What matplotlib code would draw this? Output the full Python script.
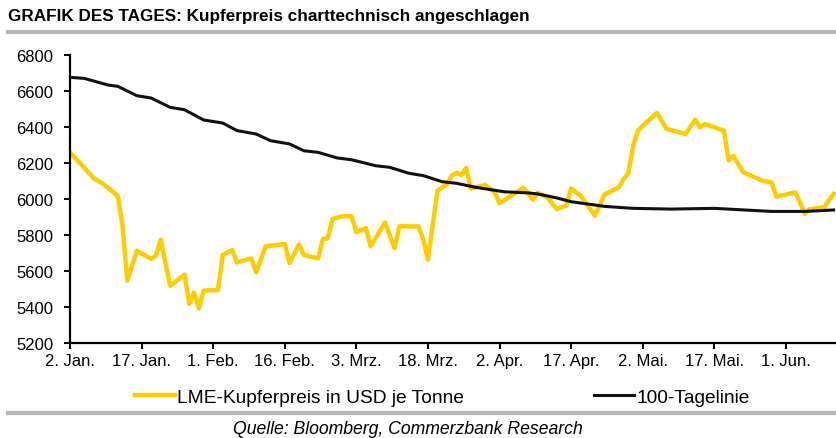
import matplotlib.pyplot as plt
import matplotlib.dates as mdates
from matplotlib.lines import Line2D
import numpy as np

plt.rcParams['font.family'] = ['Liberation Sans', 'DejaVu Sans']

start = np.datetime64('2015-01-02')

# LME-Kupferpreis (USD/t), Tag seit 2. Jan. -> Wert
kupfer_tag = [0, 4, 5, 7, 10, 11, 12, 14, 17, 18, 19, 21, 24, 25, 26, 27, 28, 31, 32, 34,
              35, 38, 39, 41, 45, 46, 48, 49, 52, 53, 54, 55, 57, 59, 60, 62, 63, 66, 68, 69,
              73, 74, 75, 77, 79, 80, 81, 82, 83, 84, 87, 89, 90, 95, 97, 98, 100, 102, 104, 105,
              107, 110, 112, 115, 116, 117, 118, 119, 120, 123, 125, 129, 131, 132, 133, 137, 138, 139, 141, 145,
              147, 148, 152, 154, 155, 158, 160]
kupfer_wert = [6259, 6145, 6115, 6083, 6018, 5852, 5546, 5713, 5667, 5685, 5774, 5518, 5580, 5417, 5481, 5392, 5491, 5494, 5689, 5717,
               5648, 5670, 5592, 5737, 5750, 5644, 5748, 5689, 5670, 5778, 5781, 5889, 5904, 5904, 5815, 5839, 5737, 5870, 5726, 5848,
               5848, 5778, 5663, 6046, 6083, 6130, 6146, 6133, 6172, 6058, 6078, 6037, 5976, 6062, 5996, 6035, 6009, 5944, 5963, 6059,
               6018, 5907, 6025, 6065, 6111, 6144, 6296, 6379, 6407, 6478, 6389, 6361, 6441, 6398, 6417, 6380, 6215, 6240, 6150, 6102,
               6093, 6013, 6037, 5917, 5944, 5954, 6028]

# 100-Tagelinie
ma_tag = [0, 3, 8, 10, 14, 17, 21, 24, 28, 32, 35, 39, 42, 46, 49, 52, 56, 59, 64, 67,
          71, 74, 78, 81, 85, 91, 96, 98, 102, 105, 112, 118, 126, 135, 147, 154, 160]
ma_wert = [6676, 6670, 6633, 6626, 6574, 6561, 6509, 6496, 6439, 6422, 6380, 6361, 6324, 6306, 6268, 6259, 6228, 6218, 6185, 6176,
           6143, 6130, 6096, 6087, 6065, 6040, 6034, 6028, 6006, 5985, 5959, 5948, 5944, 5948, 5931, 5931, 5939]

tick_daten = ['2015-01-02', '2015-01-17', '2015-02-01', '2015-02-16', '2015-03-03', '2015-03-18',
              '2015-04-02', '2015-04-17', '2015-05-02', '2015-05-17', '2015-06-01']
tick_labels = ['2. Jan.', '17. Jan.', '1. Feb.', '16. Feb.', '3. Mrz.', '18. Mrz.',
               '2. Apr.', '17. Apr.', '2. Mai.', '17. Mai.', '1. Jun.']

kx = start + np.array(kupfer_tag).astype('timedelta64[D]')
mx = start + np.array(ma_tag).astype('timedelta64[D]')

fig = plt.figure(figsize=(8.36, 4.39), dpi=100)
ax = fig.add_axes([70 / 836, 1 - 344 / 439, 1 - 70 / 836, (344 - 56) / 439])

ax.plot(kx, kupfer_wert, color='#FFCC00', lw=3.2, solid_joinstyle='round',
        label='LME-Kupferpreis in USD je Tonne')
ax.plot(mx, ma_wert, color='#111111', lw=2.2, label='100-Tagelinie')

ax.set_ylim(5200, 6800)
ax.set_yticks(np.arange(5200, 6801, 200))
ax.set_xlim(start, start + np.timedelta64(3852, 'h'))
ax.set_xticks([np.datetime64(d) for d in tick_daten])
ax.set_xticklabels(tick_labels)

for s in ['top', 'right']:
    ax.spines[s].set_visible(False)
for s in ['left', 'bottom']:
    ax.spines[s].set_linewidth(1.6)
ax.tick_params(direction='out', length=4, width=1.4, labelsize=12)
ax.tick_params(axis='x', pad=3)
ax.tick_params(axis='y', pad=8)

h, l = ax.get_legend_handles_labels()
fig.legend(h, l, loc='center', bbox_to_anchor=(0.529, 1 - 398 / 439), ncol=2, frameon=False,
           fontsize=13.8, handlelength=2.1, handletextpad=0.1, columnspacing=6.8)

fig.text(8 / 836, 1 - 17 / 439, 'GRAFIK DES TAGES: Kupferpreis charttechnisch angeschlagen',
         fontsize=12.3, fontweight='bold', va='center', ha='left')
fig.add_artist(Line2D([8 / 836, 1], [1 - 33 / 439] * 2, color='#B8B8B8', lw=3))
fig.add_artist(Line2D([8 / 836, 1], [1 - 414 / 439] * 2, color='#B8B8B8', lw=3))
fig.text(408 / 836, 1 - 430 / 439, 'Quelle: Bloomberg, Commerzbank Research',
         fontsize=12.7, style='italic', va='center', ha='center')

fig.savefig('out.png', dpi=100)
